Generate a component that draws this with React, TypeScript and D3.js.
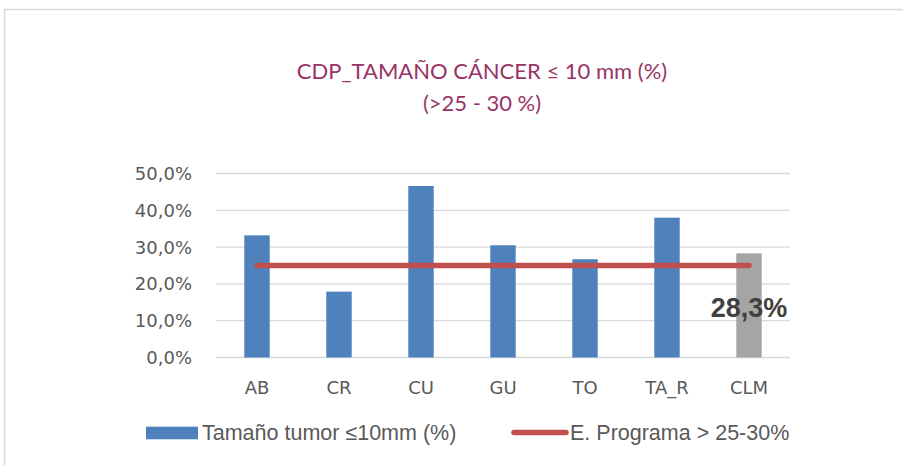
import React from "react";
import * as d3 from "d3";

const categories = ["AB", "CR", "CU", "GU", "TO", "TA_R", "CLM"];
const tumorValues = [0.332, 0.179, 0.466, 0.305, 0.267, 0.38, 0.283];
const programValues = [0.25, 0.25, 0.25, 0.25, 0.25, 0.25, 0.25];
const yTicks = [0, 0.1, 0.2, 0.3, 0.4, 0.5];
const titleLines = ["CDP_TAMAÑO CÁNCER ≤ 10 mm (%)", "(>25 - 30 %)"];
const legendLabels = ["Tamaño tumor ≤10mm (%)", "E. Programa > 25-30%"];
const highlightLabel = "28,3%";

const W = 903;
const H = 466;
const fmt = (v: number) => (v * 100).toFixed(1).replace(".", ",") + "%";

export default function App() {
  const x = d3
    .scaleBand<string>()
    .domain(categories)
    .range([216, 790])
    .paddingInner(0.69)
    .paddingOuter(0.345);
  const y = d3.scaleLinear().domain([0, 0.5]).range([357.5, 173.5]);
  const cx = (c: string) => (x(c) as number) + x.bandwidth() / 2;
  const line = d3
    .line<number>()
    .x((_, i) => cx(categories[i]))
    .y((d) => y(d));
  const lastIdx = categories.length - 1;
  const axisFont = "'DejaVu Sans', sans-serif";
  const legendFont = "'Liberation Sans', Arial, sans-serif";

  return (
    <svg
      width={W}
      height={H}
      style={{ position: "absolute", left: 0, top: 0, background: "#fff" }}
    >
      <rect x={0} y={0} width={W} height={H} fill="#fff" />
      <rect x={4.5} y={9.5} width={1200} height={1200} fill="none" stroke="#D9D9D9" strokeWidth={1.5} />
      {titleLines.map((t, i) => (
        <text
          key={i}
          x={482}
          y={79 + i * 32}
          textAnchor="middle"
          fontFamily="Lato, 'Liberation Sans', sans-serif"
          fontSize={22}
          fill="#993366"
        >
          {t}
        </text>
      ))}
      {yTicks.map((t) => (
        <g key={t}>
          <line x1={216} x2={790} y1={y(t)} y2={y(t)} stroke="#D9D9D9" strokeWidth={1.3} />
          <text
            x={192}
            y={y(t)}
            dy="0.36em"
            textAnchor="end"
            fontFamily={axisFont}
            fontSize={18}
            fill="#595959"
          >
            {fmt(t)}
          </text>
        </g>
      ))}
      {categories.map((c, i) => (
        <rect
          key={c}
          x={x(c)}
          y={y(tumorValues[i])}
          width={x.bandwidth()}
          height={y(0) - y(tumorValues[i])}
          fill={i === lastIdx ? "#A5A5A5" : "#4F81BD"}
        />
      ))}
      <path
        d={line(programValues) || ""}
        fill="none"
        stroke="#C0504D"
        strokeWidth={5.5}
        strokeLinecap="round"
      />
      {categories.map((c) => (
        <text
          key={c}
          x={cx(c)}
          y={394}
          textAnchor="middle"
          fontFamily={axisFont}
          fontSize={18}
          fill="#595959"
        >
          {c}
        </text>
      ))}
      <text
        x={cx(categories[lastIdx])}
        y={316.7}
        textAnchor="middle"
        fontFamily="'Liberation Sans', Arial, sans-serif"
        fontWeight="bold"
        fontSize={27}
        fill="#404040"
      >
        {highlightLabel}
      </text>
      <rect x={146} y={426.7} width={52} height={12.6} fill="#4F81BD" />
      <text x={202} y={440} fontFamily={legendFont} fontSize={21.5} fill="#595959">
        {legendLabels[0]}
      </text>
      <line x1={514} x2={566} y1={432.5} y2={432.5} stroke="#C0504D" strokeWidth={5.5} strokeLinecap="round" />
      <text x={570} y={440} fontFamily={legendFont} fontSize={21.5} fill="#595959">
        {legendLabels[1]}
      </text>
    </svg>
  );
}
